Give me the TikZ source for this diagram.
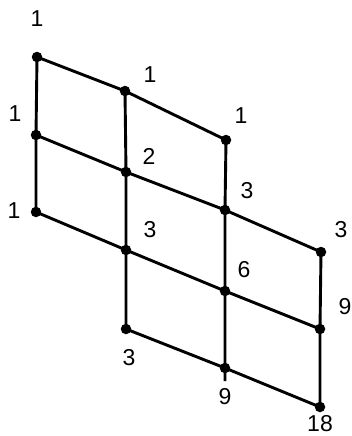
\documentclass[tikz,border=0pt]{standalone}
\usepackage{fontspec}
\setmainfont{Liberation Sans}
\begin{document}
\begin{tikzpicture}[x=1pt,y=-1pt,
  dot/.style={circle,fill=black,inner sep=0pt,minimum size=10.5pt},
  lbl/.style={inner sep=0pt,font=\fontsize{23}{25}\selectfont},
  edge/.style={line width=2.9pt}]
\useasboundingbox (0,0) rectangle (352,436);
% points
\node[dot] (A) at (37,57) {};
\node[dot] (B) at (125,91) {};
\node[dot] (F) at (226,140) {};
\node[dot] (C) at (36,135) {};
\node[dot] (D) at (126,172) {};
\node[dot] (G) at (225,210) {};
\node[dot] (H) at (321,252) {};
\node[dot] (E) at (36,212) {};
\node[dot] (P) at (126,250) {};
\node[dot] (I) at (225,291) {};
\node[dot] (L) at (320,329) {};
\node[dot] (K) at (126,329) {};
\node[dot] (M) at (225,368) {};
\node[dot] (N) at (320,407) {};
\coordinate (Mend) at (225,381);
% verticals
\draw[edge] (A.center) -- (C.center) -- (E.center);
\draw[edge] (B.center) -- (D.center) -- (P.center) -- (K.center);
\draw[edge] (F.center) -- (G.center) -- (I.center) -- (M.center) -- (Mend);
\draw[edge] (H.center) -- (L.center) -- (N.center);
% slanted
\draw[edge] (A.center) -- (B.center) -- (F.center);
\draw[edge] (C.center) -- (D.center) -- (G.center) -- (H.center);
\draw[edge] (E.center) -- (P.center) -- (I.center) -- (L.center);
\draw[edge] (K.center) -- (M.center) -- (N.center);
% labels
\node[lbl] (lA) at (37,19) {1};
\node[lbl] (lB) at (150,75) {1};
\node[lbl] (lF) at (241,116) {1};
\node[lbl] (lC) at (15,114) {1};
\node[lbl] (lE) at (14,211) {1};
\node[lbl] (lD) at (149,156) {2};
\node[lbl] (lG) at (247,191) {3};
\node[lbl] (lH) at (341,230) {3};
\node[lbl] (lP) at (150,230) {3};
\node[lbl] (lI) at (244,270) {6};
\node[lbl] (lL) at (345,307) {9};
\node[lbl] (lK) at (129,358) {3};
\node[lbl] (lM) at (225,397) {9};
\node[lbl] (lN) at (320,424) {18};
\end{tikzpicture}
\end{document}
